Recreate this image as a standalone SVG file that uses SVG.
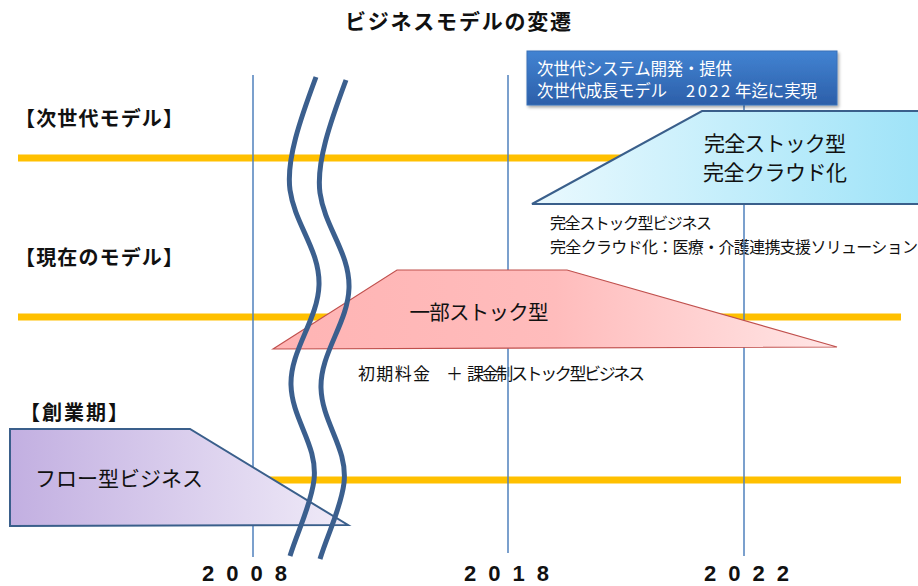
<svg xmlns="http://www.w3.org/2000/svg" width="918" height="586" viewBox="0 0 918 586">
<defs>
<style>
.jp{font-family:"Noto Sans CJK JP","Noto Sans",sans-serif;fill:#111}
.b{font-weight:bold}
.lane{stroke:#ffc000;stroke-width:7;fill:none}
.year{stroke:#4f81bd;stroke-width:1.5;fill:none}
.wave{stroke:#3b5f8e;stroke-width:5;fill:none;stroke-linecap:butt}
.yr{font-family:"Liberation Sans",Arial,sans-serif;font-weight:bold;font-size:22px;letter-spacing:12px;fill:#111}
</style>
<linearGradient id="gCyan" x1="0" y1="0" x2="1" y2="0">
<stop offset="0" stop-color="#eaf9fe"/>
<stop offset="1" stop-color="#9ee3f8"/>
</linearGradient>
<linearGradient id="gPink" x1="0" y1="0" x2="1" y2="0">
<stop offset="0" stop-color="#ffb4b4"/>
<stop offset="0.5" stop-color="#ffbcbc"/>
<stop offset="1" stop-color="#ffe6e6"/>
</linearGradient>
<linearGradient id="gPurple" x1="0" y1="0" x2="1" y2="0">
<stop offset="0" stop-color="#c2afe1"/>
<stop offset="1" stop-color="#f0ebf8"/>
</linearGradient>
<linearGradient id="gBlue" x1="0" y1="0" x2="0" y2="1">
<stop offset="0" stop-color="#4283d2"/>
<stop offset="1" stop-color="#2c5fa9"/>
</linearGradient>
<filter id="sh" x="-10%" y="-20%" width="130%" height="150%">
<feDropShadow dx="1.5" dy="2" stdDeviation="1.5" flood-color="#000" flood-opacity="0.35"/>
</filter>
</defs>
<rect width="918" height="586" fill="#fff"/>

<text id="title" class="jp b" x="458" y="29" font-size="21" text-anchor="middle" textLength="226">ビジネスモデルの変遷</text>

<g id="lanes">
<line class="lane" x1="18" y1="158" x2="900" y2="158"/>
<line class="lane" x1="18" y1="317" x2="901" y2="317"/>
<line class="lane" x1="18" y1="480" x2="901" y2="480"/>
</g>

<g id="labels">
<text class="jp b" x="15" y="126" font-size="20" textLength="168">【次世代モデル】</text>
<text class="jp b" x="15" y="265" font-size="20" textLength="168">【現在のモデル】</text>
<text class="jp b" x="20" y="420" font-size="20" textLength="108">【創業期】</text>
</g>

<g id="notes">
<text class="jp" x="550" y="229" font-size="16" textLength="162">完全ストック型ビジネス</text>
<text class="jp" x="550" y="253" font-size="16" textLength="368">完全クラウド化：医療・介護連携支援ソリューション</text>
<text class="jp" x="358" y="380" font-size="17" textLength="72">初期料金</text>
<text class="jp" x="446" y="380" font-size="17">＋</text>
<text class="jp" x="467" y="380" font-size="17" textLength="178">課金制ストック型ビジネス</text>
</g>

<g id="years">
<line class="year" x1="253" y1="75" x2="253" y2="557"/>
<line class="year" x1="508" y1="75" x2="508" y2="553"/>
<line class="year" x1="744" y1="75" x2="744" y2="556"/>
<text class="yr" x="202" y="581">2008</text>
<text class="yr" x="464" y="581">2018</text>
<text class="yr" x="704" y="581">2022</text>
</g>

<g id="next-model">
<polygon points="532,204 702,111 925,111 925,204" fill="url(#gCyan)" stroke="#3a5f8b" stroke-width="2"/>
<text class="jp" x="775" y="151" font-size="21" text-anchor="middle" textLength="142">完全ストック型</text>
<text class="jp" x="775" y="180" font-size="21" text-anchor="middle" textLength="144">完全クラウド化</text>
</g>

<g id="current-model">
<polygon points="273,349 397,270 567,270 837,347" fill="url(#gPink)" stroke="#c0504d" stroke-width="1.2"/>
<text class="jp" x="479" y="320" font-size="20.5" text-anchor="middle" textLength="139">一部ストック型</text>
</g>

<g id="founding">
<polygon points="10,429 190,429 348,525 10,526" fill="url(#gPurple)" stroke="#3a5f8b" stroke-width="2"/>
<text class="jp" x="35" y="486" font-size="21" textLength="168">フロー型ビジネス</text>
</g>

<g id="callout">
<rect x="527" y="51" width="310" height="54" fill="url(#gBlue)" stroke="#3a70b8" stroke-width="1" filter="url(#sh)"/>
<text class="jp" x="537" y="75" font-size="16.5" style="fill:#fff" textLength="195">次世代システム開発・提供</text>
<text class="jp" y="97" font-size="16.5" style="fill:#fff"><tspan x="537" textLength="130">次世代成長モデル</tspan><tspan x="686" letter-spacing="2.5">2022</tspan><tspan x="735" textLength="82">年迄に実現</tspan></text>
</g>

<g id="connectors">
<path class="wave" d="M316,77 C300,120 286,160 290,190 C295,225 320,250 319,285 C318,320 290,350 291,385 C292,420 318,445 314,480 C311,505 298,530 290,556"/>
<path class="wave" transform="translate(30,3)" d="M316,77 C300,120 286,160 290,190 C295,225 320,250 319,285 C318,320 290,350 291,385 C292,420 318,445 314,480 C311,505 298,530 290,556"/>
</g>
</svg>
